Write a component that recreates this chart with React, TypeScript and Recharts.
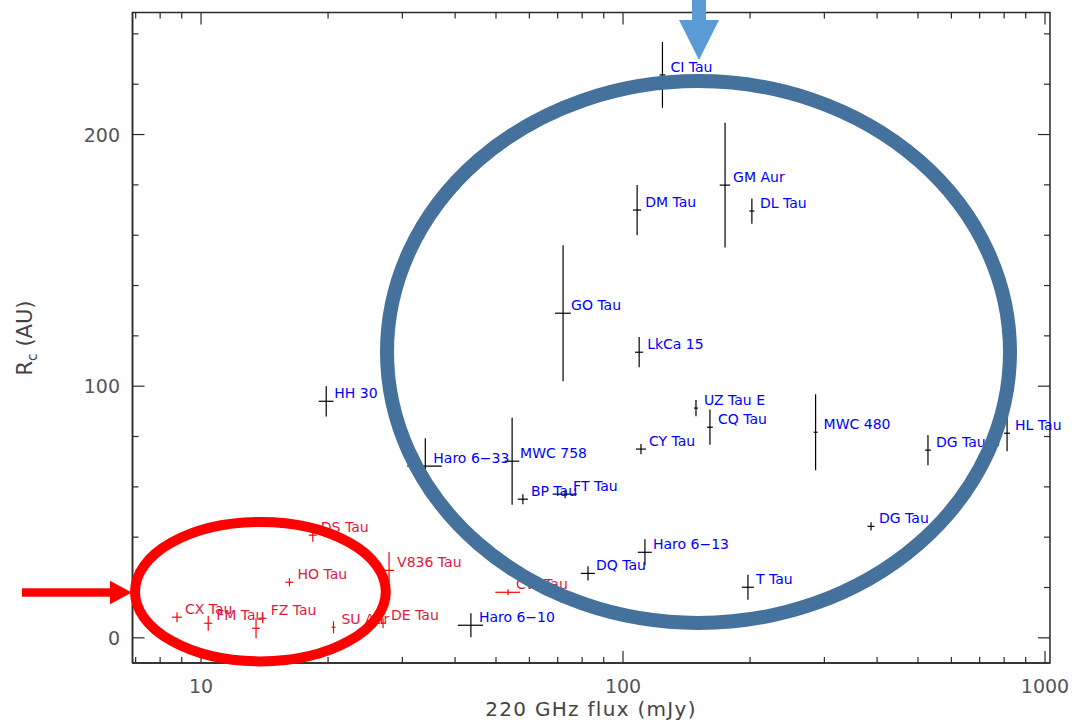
import {
  ScatterChart,
  Scatter,
  XAxis,
  YAxis,
  ErrorBar,
  ReferenceArea,
} from "recharts";

// ──────────────────────────────────────────────
// Data
// ──────────────────────────────────────────────

const discNames = [
  "CI Tau", "GM Aur", "DM Tau", "DL Tau", "GO Tau", "LkCa 15", "HH 30",
  "Haro 6−33", "MWC 758", "BP Tau", "FT Tau", "CY Tau", "UZ Tau E", "CQ Tau",
  "Haro 6−13", "DQ Tau", "Haro 6−10", "T Tau", "MWC 480", "DG Tau B", "HL Tau",
  "DG Tau",
  "CW Tau", "CX Tau", "FM Tau", "", "FZ Tau", "HO Tau", "DS Tau", "V836 Tau",
  "SU Aur", "DE Tau",
];

// 220 GHz flux (mJy)
const discFlux = [
  124, 174.5, 108, 202, 72.1, 109.2, 19.8, 34, 54.6, 57.9, 72.9, 110.3, 148.9,
  160.7, 112.7, 82.6, 43.6, 197.7, 286, 528, 813, 387,
  53.4, 8.77, 10.4, 13.5, 14.0, 16.2, 18.4, 27.9, 20.6, 27.0,
];

const discFluxErr = [
  2.0, 5.0, 2.4, 2.8, 3.1, 2.4, 0.8, 3.2, 2.2, 1.6, 4.8, 3.0, 1.6, 2.6, 4.3,
  3.2, 3.0, 6.5, 3.1, 8.6, 13, 7.4,
  3.6, 0.24, 0.23, 0.29, 0.3, 0.35, 0.4, 0.76, 0.22, 0.3,
];

// Rc (AU)
const discRadius = [
  223.7, 179.9, 170, 169.6, 129, 113.5, 94, 68.2, 70.2, 55.1, 57.1, 75, 91.3,
  83.7, 34, 25.6, 5, 20.1, 81.7, 74.6, 81.3, 44.3,
  18.1, 8.2, 5.8, 3.8, 7.8, 22.1, 40.8, 26.8, 4.2, 5.8,
];

const discRadiusErr: (number | [number, number])[] = [
  13.1, 24.8, 10, 5, 27, 6, 6, 11.1, 17.3, 2, 1.6, 2, 3.2, 7, 5.2, 2.8, 4.8, 5,
  15.1, 6, 7.2, 1.6,
  1.2, 2, 3, 4, 2, 1.6, 2.6, [4.6, 7.3], 2.4, 2,
];

// "ext" = blue-labelled sample, "cmp" = red-labelled compact discs
const discGroup = [
  "ext", "ext", "ext", "ext", "ext", "ext", "ext", "ext", "ext", "ext", "ext",
  "ext", "ext", "ext", "ext", "ext", "ext", "ext", "ext", "ext", "ext", "ext",
  "cmp", "cmp", "cmp", "cmp", "cmp", "cmp", "cmp", "cmp", "cmp", "cmp",
];

const fluxTicks = [
  7, 8, 9, 10, 20, 30, 40, 50, 60, 70, 80, 90, 100, 200, 300, 400, 500, 600,
  700, 800, 900, 1000,
];
const fluxLabels = [10, 100, 1000];
const radiusTicks = [0, 20, 40, 60, 80, 100, 120, 140, 160, 180, 200, 220, 240];
const radiusLabels = [0, 100, 200];

// ──────────────────────────────────────────────
// Layout
// ──────────────────────────────────────────────

const WIDTH = 1072;
const HEIGHT = 720;
const PLOT = { left: 132.5, right: 1050, top: 12.5, bottom: 663 };
const FLUX_DOMAIN: [number, number] = [6.88, 1027.6];
const RADIUS_DOMAIN: [number, number] = [-10, 248.5];
const AXIS_COLOR = "#2a2a2a";
const LABEL_GREY = "#555";
const FONT = "'DejaVu Sans', sans-serif";

const points = discNames.map((name, i) => ({
  name,
  flux: discFlux[i],
  fluxErr: discFluxErr[i],
  radius: discRadius[i],
  radiusErr: discRadiusErr[i],
  group: discGroup[i],
}));
const extended = points.filter((p) => p.group === "ext");
const compact = points.filter((p) => p.group === "cmp");

// ──────────────────────────────────────────────
// Renderers
// ──────────────────────────────────────────────

const FluxTick = (props: any) => {
  const { x, payload } = props;
  const major = fluxLabels.includes(payload.value);
  const len = major ? 12 : 6;
  return (
    <g>
      <line x1={x} x2={x} y1={PLOT.bottom} y2={PLOT.bottom - len} stroke={AXIS_COLOR} strokeWidth={1.2} />
      <line x1={x} x2={x} y1={PLOT.top} y2={PLOT.top + len} stroke={AXIS_COLOR} strokeWidth={1.2} />
      {major && (
        <text x={x} y={693} textAnchor="middle" fontSize={19} fill={LABEL_GREY} fontFamily={FONT}>
          {payload.value}
        </text>
      )}
    </g>
  );
};

const RadiusTick = (props: any) => {
  const { y, payload } = props;
  const major = radiusLabels.includes(payload.value);
  const len = major ? 12 : 6;
  return (
    <g>
      <line x1={PLOT.left} x2={PLOT.left + len} y1={y} y2={y} stroke={AXIS_COLOR} strokeWidth={1.2} />
      <line x1={PLOT.right} x2={PLOT.right - len} y1={y} y2={y} stroke={AXIS_COLOR} strokeWidth={1.2} />
      {major && (
        <text x={120} y={y + 7} textAnchor="end" fontSize={19} fill={LABEL_GREY} fontFamily={FONT}>
          {payload.value}
        </text>
      )}
    </g>
  );
};

const labelShape = (color: string) => (props: any) => {
  const { cx, cy } = props;
  const name = props.payload?.name ?? props.name;
  if (!name) return <g />;
  return (
    <text x={cx + 8} y={cy - 3} fill={color} fontSize={14} fontFamily={FONT}>
      {name}
    </text>
  );
};

// ──────────────────────────────────────────────
// Component
// ──────────────────────────────────────────────

export default function App() {
  return (
    <div
      style={{
        position: "absolute",
        left: 0,
        top: 0,
        width: WIDTH,
        height: HEIGHT,
        background: "#fff",
        fontFamily: FONT,
      }}
    >
      <ScatterChart
        width={WIDTH}
        height={HEIGHT}
        margin={{ top: PLOT.top, right: WIDTH - PLOT.right, bottom: 0, left: 0 }}
      >
        <XAxis
          type="number"
          dataKey="flux"
          scale="log"
          domain={FLUX_DOMAIN}
          ticks={fluxTicks}
          interval={0}
          height={HEIGHT - PLOT.bottom}
          tickSize={0}
          tickMargin={0}
          tickLine={false}
          tick={FluxTick}
          axisLine={{ stroke: AXIS_COLOR, strokeWidth: 1.5 }}
        />
        <YAxis
          type="number"
          dataKey="radius"
          domain={RADIUS_DOMAIN}
          ticks={radiusTicks}
          interval={0}
          width={PLOT.left}
          tickSize={0}
          tickMargin={0}
          tickLine={false}
          tick={RadiusTick}
          axisLine={{ stroke: AXIS_COLOR, strokeWidth: 1.5 }}
        />
        <ReferenceArea
          x1={FLUX_DOMAIN[0]}
          x2={FLUX_DOMAIN[1]}
          y1={RADIUS_DOMAIN[0]}
          y2={RADIUS_DOMAIN[1]}
          fill="none"
          stroke={AXIS_COLOR}
          strokeWidth={1.5}
        />
        <Scatter data={extended} shape={labelShape("#0000ff")} isAnimationActive={false}>
          <ErrorBar dataKey="fluxErr" direction="x" width={0} stroke="#000" strokeWidth={1.2} isAnimationActive={false} />
          <ErrorBar dataKey="radiusErr" direction="y" width={0} stroke="#000" strokeWidth={1.2} isAnimationActive={false} />
        </Scatter>
        <Scatter data={compact} shape={labelShape("#e01a3c")} isAnimationActive={false}>
          <ErrorBar dataKey="fluxErr" direction="x" width={0} stroke="#ff0000" strokeWidth={1.2} isAnimationActive={false} />
          <ErrorBar dataKey="radiusErr" direction="y" width={0} stroke="#ff0000" strokeWidth={1.2} isAnimationActive={false} />
        </Scatter>
        <text
          x={591}
          y={716}
          textAnchor="middle"
          fontSize={20}
          letterSpacing={1.3}
          fill="#444"
          fontFamily={FONT}
        >
          220 GHz flux (mJy)
        </text>
        <text
          x={32}
          y={338}
          textAnchor="middle"
          fontSize={21}
          fill="#444"
          fontFamily={FONT}
          transform="rotate(-90 32 338)"
        >
          R
          <tspan fontSize={14} dy={5}>c</tspan>
          <tspan dy={-5}> (AU)</tspan>
        </text>
      </ScatterChart>

      {/* ── Annotations drawn over the figure ── */}
      <svg
        width={WIDTH}
        height={HEIGHT}
        style={{ position: "absolute", left: 0, top: 0, pointerEvents: "none" }}
      >
        <ellipse cx={698.5} cy={352} rx={311.5} ry={271} fill="none" stroke="#45729d" strokeWidth={14} />
        <ellipse cx={260.4} cy={591.7} rx={125.4} ry={69.7} fill="none" stroke="#ff0000" strokeWidth={10} />
        <rect x={22} y={588.3} width={90} height={8.4} fill="#ff0000" />
        <polygon points="110,580.7 131.7,592.5 110,604.3" fill="#ff0000" />
        <rect x={692} y={0} width={14} height={21} fill="#5b9bd5" />
        <polygon points="679,20 719,20 699,60" fill="#5b9bd5" />
      </svg>
    </div>
  );
}
